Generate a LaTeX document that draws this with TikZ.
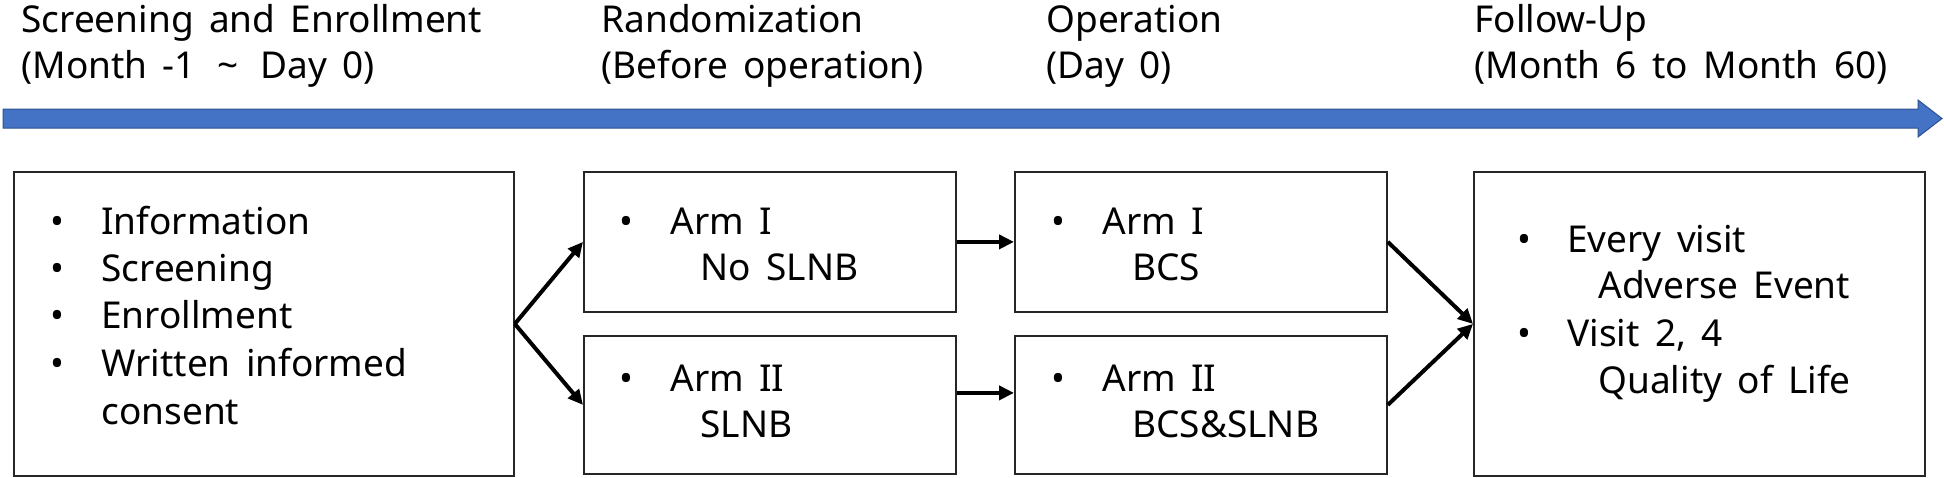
\documentclass[tikz,border=0pt]{standalone}
\usepackage{fontspec}
\setmainfont{Noto Sans}[WordSpace=1.6]
\usetikzlibrary{arrows.meta}
\definecolor{barblue}{HTML}{4472C4}
\definecolor{barline}{HTML}{2F528F}
\definecolor{boxline}{HTML}{262626}
\begin{document}
\begin{tikzpicture}[x=0.5pt,y=-0.5pt,
  txt/.style={anchor=base west, inner sep=0pt, font=\fontsize{18.5}{24}\selectfont},
  bul/.style={anchor=base, inner sep=0pt, font=\fontsize{18.5}{24}\selectfont},
  boxn/.style={draw=boxline, line width=0.9pt, anchor=north west, inner sep=0pt},
  conn/.style={draw=black, line width=2pt, -{Triangle[length=7.5pt,width=7pt]}}]
\useasboundingbox (0,0) rectangle (1944,477);
% timeline bar
\fill[barblue, draw=barline, line width=0.5pt] (3,109) -- (1918,109) -- (1918,100) -- (1942,118.5) -- (1918,137) -- (1918,128) -- (3,128) -- cycle;
% headers
\node[txt] (h1a) at (21,32) {Screening and Enrollment};
\node[txt] (h1b) at (21,78) {(Month -1 \,\char"007E\, Day 0)};
\node[txt] (h2a) at (601,32) {Randomization};
\node[txt] (h2b) at (601,78) {(Before operation)};
\node[txt] (h3a) at (1046,32) {Operation};
\node[txt] (h3b) at (1046,78) {(Day 0)};
\node[txt] (h4a) at (1474,32) {Follow-Up};
\node[txt] (h4b) at (1474,78) {(Month 6 to Month 60)};
% boxes
\node[boxn, minimum width=250pt, minimum height=152pt] (box1) at (13,171) {};
\node[boxn, minimum width=186pt, minimum height=70pt] (rand1) at (583,171) {};
\node[boxn, minimum width=186pt, minimum height=69pt] (rand2) at (583,335) {};
\node[boxn, minimum width=186pt, minimum height=70pt] (op1) at (1014,171) {};
\node[boxn, minimum width=186pt, minimum height=69pt] (op2) at (1014,335) {};
\node[boxn, minimum width=225.5pt, minimum height=152pt] (fol) at (1473,171) {};
% box1 text
\node[bul] (b1a) at (57,234) {•};
\node[txt] (t1a) at (101,234) {Information};
\node[bul] (b1b) at (57,281) {•};
\node[txt] (t1b) at (101,281) {Screening};
\node[bul] (b1c) at (57,328) {•};
\node[txt] (t1c) at (101,328) {Enrollment};
\node[bul] (b1d) at (57,376) {•};
\node[txt] (t1d) at (101,376) {Written informed};
\node[txt] (t1e) at (101,424) {consent};
% randomization text
\node[bul] (b2a) at (626,234) {•};
\node[txt] (t2a) at (670,234) {Arm I};
\node[txt] (t2b) at (700,280) {No SLNB};
\node[bul] (b2c) at (626,391) {•};
\node[txt] (t2c) at (670,391) {Arm II};
\node[txt] (t2d) at (700,437) {SLNB};
% operation text
\node[bul] (b3a) at (1058,234) {•};
\node[txt] (t3a) at (1102,234) {Arm I};
\node[txt] (t3b) at (1132,280) {BCS};
\node[bul] (b3c) at (1058,391) {•};
\node[txt] (t3c) at (1102,391) {Arm II};
\node[txt] (t3d) at (1132,437) {BCS\&SLNB};
% follow-up text
\node[bul] (b4a) at (1524,252) {•};
\node[txt] (t4a) at (1567,252) {Every visit};
\node[txt] (t4b) at (1598,298) {Adverse Event};
\node[bul] (b4c) at (1524,346) {•};
\node[txt] (t4c) at (1567,346) {Visit 2, 4};
\node[txt] (t4d) at (1598,393) {Quality of Life};
% connectors
\draw[conn] (box1.east) -- (rand1.west);
\draw[conn] (box1.east) -- (rand2.west);
\draw[conn] (rand1.east) -- (op1.west);
\draw[conn] ([yshift=6pt]rand2.east) -- ([yshift=6pt]op2.west);
\draw[conn] (op1.east) -- (fol.west);
\draw[conn] (op2.east) -- (fol.west);
\end{tikzpicture}
\end{document}
